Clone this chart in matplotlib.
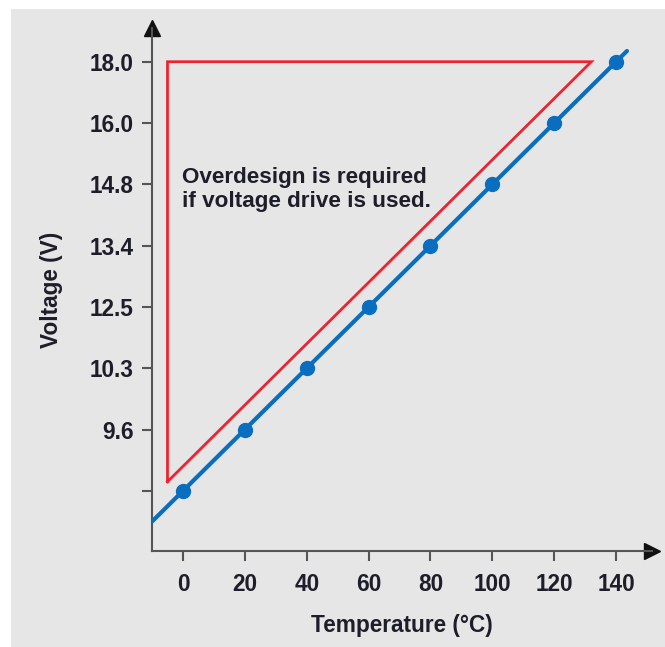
import matplotlib.pyplot as plt
import numpy as np

# data (voltage ticks are evenly spaced categories)
temperature = [0, 20, 40, 60, 80, 100, 120, 140]
voltage_labels = ['', '9.6', '10.3', '12.5', '13.4', '14.8', '16.0', '18.0']
volt_pos = np.arange(len(voltage_labels))
line_x = [-10, 143.5]
# overdesign triangle
tri_left = -5
tri_top = 7
tri_offset = 0.4

plt.rcParams['font.family'] = ['Liberation Sans', 'DejaVu Sans']
txt = '#1e1e2a'
blue = '#0a6ec0'
red = '#ec2330'
axcol = '#555555'
fs = 16.3

fig = plt.figure(figsize=(6.65, 6.47), dpi=100)
fig.patch.set_facecolor('white')
fig.patches.append(plt.Rectangle((11 / 665, 0), 1, 1 - 9 / 647, transform=fig.transFigure,
                                 facecolor='#e6e6e6', edgecolor='none', zorder=-10))

W, H = 665, 647
ax = fig.add_axes([152 / W, 1 - 551 / H, (652 - 152) / W, (551 - 28) / H])
ax.set_facecolor('none')
ax.set_xlim(-10, 151.6)
ax.set_ylim(-0.98, 7.55)

for s in ['top', 'right']:
    ax.spines[s].set_visible(False)
for s in ['left', 'bottom']:
    ax.spines[s].set_color(axcol)
    ax.spines[s].set_linewidth(1.5)

# arrow heads
ax.plot([0], [1], marker='^', markersize=11, color='#111111', transform=ax.transAxes,
        clip_on=False)
ax.plot([1], [0], marker='>', markersize=11, color='#111111', transform=ax.transAxes,
        clip_on=False)

# blue line through points
lx = np.array(line_x)
ax.plot(lx, lx / 20, color=blue, lw=3, solid_capstyle='round', zorder=3)
ax.plot(temperature, volt_pos, 'o', color=blue, markersize=10, zorder=4)

# red triangle
tri_right = (tri_top - tri_offset) * 20
ax.plot([tri_left, tri_left, tri_right, tri_left],
        [tri_left / 20 + tri_offset, tri_top, tri_top, tri_left / 20 + tri_offset],
        color=red, lw=2, solid_joinstyle='miter', zorder=2)

ax.text(-0.3, 5.28, 'Overdesign is required\nif voltage drive is used.', fontsize=16.2,
        fontweight='bold', color=txt, va='top', ha='left', linespacing=1.2)

ax.set_xticks(temperature)
ax.set_xticklabels([str(t) for t in temperature])
ax.set_yticks(volt_pos)
ax.set_yticklabels(voltage_labels)
ax.tick_params(axis='both', length=7, width=1.5, color=axcol, labelsize=fs,
               labelcolor=txt)
ax.tick_params(axis='y', pad=6)
ax.tick_params(axis='x', pad=9)
for lab in ax.get_xticklabels() + ax.get_yticklabels():
    lab.set_fontweight('bold')

ax.set_xlabel('Temperature (°C)', fontsize=fs, fontweight='bold', color=txt, labelpad=13)
ax.set_ylabel('Voltage (V)', fontsize=fs, fontweight='bold', color=txt, labelpad=19)

fig.savefig('out.png', dpi=100)
